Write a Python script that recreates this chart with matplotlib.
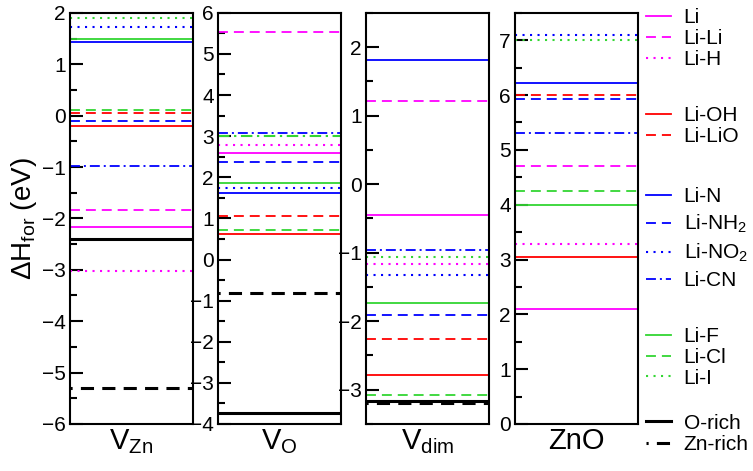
import matplotlib
matplotlib.use('Agg')
import matplotlib.pyplot as plt
from matplotlib.lines import Line2D
from matplotlib.ticker import MultipleLocator

plt.rcParams['font.family'] = ['Liberation Sans', 'DejaVu Sans']
plt.rcParams['mathtext.fontset'] = 'custom'
plt.rcParams['mathtext.rm'] = 'Liberation Sans'
plt.rcParams['mathtext.it'] = 'Liberation Sans:italic'

# series, in legend order
labels = ['Li', 'Li-Li', 'Li-H', 'Li-OH', 'Li-LiO', 'Li-N', r'Li-NH$_2$',
          r'Li-NO$_2$', 'Li-CN', 'Li-F', 'Li-Cl', 'Li-I', 'O-rich', 'Zn-rich']

# formation enthalpies (eV) per defect, same order as labels
v_zn = [-2.16, -1.83, -3.03, -0.20, 0.05, 1.43, -0.10, 1.73, -0.99, 1.50, 0.10, 1.90, -2.40, -5.30]
v_o = [2.58, 5.53, 2.78, 0.63, 1.05, 1.62, 2.36, 1.74, 3.07, 1.86, 0.73, 3.00, -3.73, -0.81]
v_dim = [-0.45, 1.21, -1.17, -2.78, -2.26, 1.81, -1.91, -1.32, -0.96, -1.74, -3.07, -1.06, -3.17, -3.20]
zno = [2.09, 4.70, 3.29, 3.05, 6.00, 6.22, 5.92, 7.10, 5.30, 3.99, 4.25, 7.00, None, None]

panel_names = [r'V$_{\rm Zn}$', r'V$_{\rm O}$', r'V$_{\rm dim}$', 'ZnO']
panel_data = [v_zn, v_o, v_dim, zno]
panel_ylim = [(-6, 2), (-4, 6), (-3.5, 2.5), (0, 7.5)]

MAG, RED, BLUE, GRN = '#ff00ff', '#ff0000', '#0000ff', '#33d633'
dash = (0, (5.5, 3.3))
dot = (0, (1.0, 2.6))
dashdot = (0, (5.5, 2.2, 1.1, 2.2))
styles = [
    (MAG, '-', 1.3), (MAG, dash, 1.3), (MAG, dot, 1.5),
    (RED, '-', 1.3), (RED, dash, 1.3),
    (BLUE, '-', 1.3), (BLUE, dash, 1.3), (BLUE, dot, 1.5), (BLUE, dashdot, 1.3),
    (GRN, '-', 1.3), (GRN, dash, 1.3), (GRN, dot, 1.5),
    ('black', '-', 2.2), ('black', (3.6, (4.3, 2.7)), 2.2),
]

fig = plt.figure(figsize=(7.53, 4.71), dpi=100)
lefts = [0.093, 0.2895, 0.486, 0.684]
for i, left in enumerate(lefts):
    ax = fig.add_axes([left, 0.0998, 0.163, 0.873])
    for j, val in enumerate(panel_data[i]):
        if val is None:
            continue
        c, ls, lw = styles[j]
        if i == 1 and labels[j] == 'Li-I':
            ls = dashdot
        ax.axhline(val, color=c, linestyle=ls, linewidth=lw)
    ax.set_ylim(*panel_ylim[i])
    ax.set_xlim(0, 1)
    ax.set_xticks([])
    ax.yaxis.set_major_locator(MultipleLocator(1))
    ax.yaxis.set_minor_locator(MultipleLocator(0.5))
    ax.tick_params(axis='y', which='major', direction='in', length=9, width=1.5,
                   labelsize=15, pad=3)
    ax.tick_params(axis='y', which='minor', direction='in', length=5, width=1.5)
    for s in ax.spines.values():
        s.set_linewidth(1.5)
    ax.set_xlabel(panel_names[i], fontsize=21, labelpad=2)
    if i == 0:
        ax.set_ylabel(r'$\Delta$H$_{\rm for}$ (eV)', fontsize=20, labelpad=2)

handles = [Line2D([], [], color=c, linestyle=ls, linewidth=lw) for c, ls, lw in styles]
groups = [(0, 3, 0.982, 0.08), (3, 5, 0.774, 0.08), (5, 9, 0.602, 0.32),
          (9, 12, 0.305, 0.08), (12, 14, 0.122, 0.12)]
for a, b, top, sp in groups:
    leg = fig.legend(handles[a:b], labels[a:b], loc='upper left',
                     bbox_to_anchor=(0.858, top), frameon=False, fontsize=15,
                     handlelength=1.2, handletextpad=0.6, labelspacing=sp,
                     borderpad=0, borderaxespad=0)

fig.savefig('out.png', dpi=100)
